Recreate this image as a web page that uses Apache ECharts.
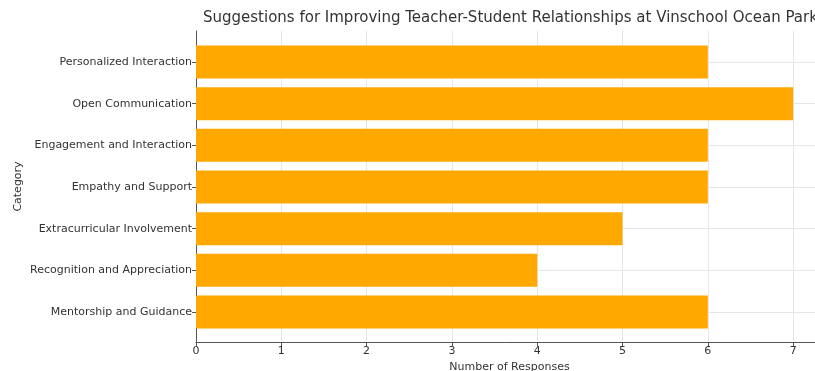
<!DOCTYPE html>
<html>
<head>
<meta charset="utf-8">
<script src="https://cdn.jsdelivr.net/npm/echarts@6/dist/echarts.min.js"></script>
<style>
html, body { margin: 0; padding: 0; background: #fff; }
#chart { width: 815px; height: 371px; }
</style>
</head>
<body>
<div id="chart"></div>
<script>
// Survey suggestions, listed top to bottom
const categories = [
  'Personalized Interaction',
  'Open Communication',
  'Engagement and Interaction',
  'Empathy and Support',
  'Extracurricular Involvement',
  'Recognition and Appreciation',
  'Mentorship and Guidance'
];
const responses = [6, 7, 6, 6, 5, 4, 6];
const xMin = 0;
const xMax = 7.35;
const xStep = 1;

const font = 'DejaVu Sans';
const textColor = '#333';
const gridColor = '#e6e6e6';
const spineColor = '#555';

const chart = echarts.init(document.getElementById('chart'), null, { renderer: 'canvas' });

chart.setOption({
  animation: false,
  backgroundColor: '#fff',
  title: {
    text: 'Suggestions for Improving Teacher-Student Relationships at Vinschool Ocean Park',
    left: 203,
    top: 11,
    padding: 0,
    textStyle: { fontFamily: font, fontSize: 15, fontWeight: 'normal', color: textColor }
  },
  grid: [
    // bar area: category positions at the grid edges
    { left: 196, right: -8, top: 62, bottom: 59, outerBoundsMode: 'none', containLabel: false },
    // full frame: spines, value ticks and vertical grid lines
    { left: 196, right: -8, top: 31, bottom: 29, outerBoundsMode: 'none', containLabel: false }
  ],
  xAxis: [
    {
      gridIndex: 0, type: 'value', min: xMin, max: xMax, interval: xStep,
      show: false
    },
    {
      gridIndex: 1, type: 'value', min: xMin, max: xMax, interval: xStep,
      name: 'Number of Responses',
      nameLocation: 'middle',
      nameGap: 16,
      nameTextStyle: { fontFamily: font, fontSize: 11, color: textColor },
      axisLine: { show: true, lineStyle: { color: spineColor, width: 1 } },
      axisTick: { show: true, length: 4, lineStyle: { color: spineColor } },
      axisLabel: {
        fontFamily: font, fontSize: 11, color: textColor, margin: 4,
        formatter: v => (v <= 7 ? String(v) : '')
      },
      splitLine: { show: true, lineStyle: { color: gridColor, width: 1 } }
    }
  ],
  yAxis: [
    {
      gridIndex: 0, type: 'category', data: categories, inverse: true,
      boundaryGap: false,
      axisLine: { show: false },
      axisTick: { show: true, length: 4, lineStyle: { color: spineColor } },
      axisLabel: { fontFamily: font, fontSize: 11, color: textColor, margin: 4 },
      splitLine: { show: true, lineStyle: { color: gridColor, width: 1 } }
    },
    {
      gridIndex: 1, type: 'value', min: 0, max: 1,
      name: 'Category',
      nameLocation: 'middle',
      nameGap: 172,
      nameRotate: 90,
      nameTextStyle: { fontFamily: font, fontSize: 11, color: textColor },
      axisLine: { show: true, lineStyle: { color: spineColor, width: 1 } },
      axisTick: { show: false },
      axisLabel: { show: false },
      splitLine: { show: false }
    }
  ],
  series: [
    {
      type: 'bar',
      xAxisIndex: 0,
      yAxisIndex: 0,
      data: responses,
      barWidth: 33,
      itemStyle: { color: '#FFA800' },
      z: 3
    }
  ]
});
</script>
</body>
</html>
